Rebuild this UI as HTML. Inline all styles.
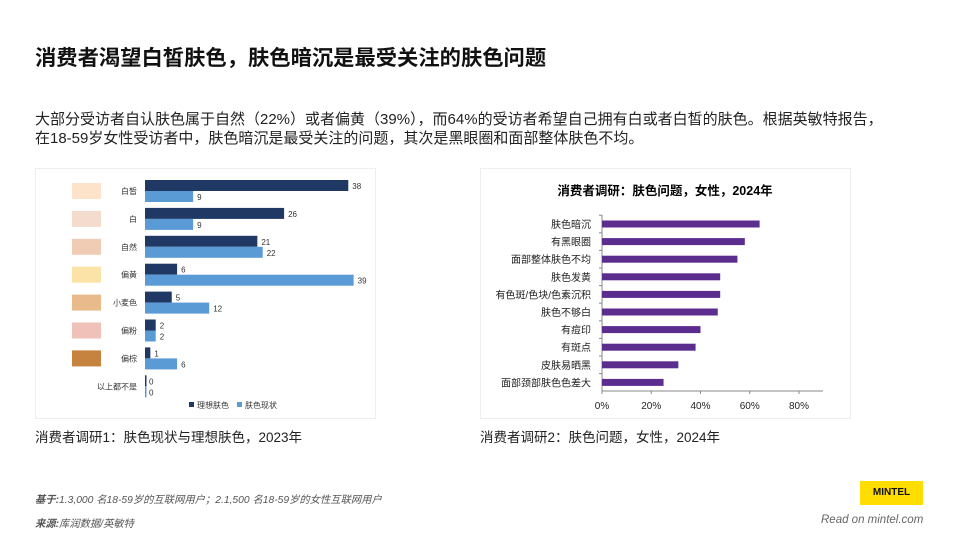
<!DOCTYPE html>
<html><head><meta charset="utf-8"><style>
body{margin:0;width:960px;height:540px;background:#fff;font-family:"Liberation Sans","Noto Sans CJK SC",sans-serif;position:relative;overflow:hidden;color:#222}
.abs{position:absolute;white-space:nowrap}
</style></head><body>
<div class="abs" style="left:35px;top:41px;font-size:21.3px;font-weight:bold;color:#111">消费者渴望白皙肤色，肤色暗沉是最受关注的肤色问题</div>
<div class="abs" style="left:35px;top:110px;font-size:15px;line-height:19px;color:#222">大部分受访者自认肤色属于自然（22%）或者偏黄（39%），而64%的受访者希望自己拥有白或者白皙的肤色。根据英敏特报告，<br>在18-59岁女性受访者中，肤色暗沉是最受关注的问题，其次是黑眼圈和面部整体肤色不均。</div>
<svg class="abs" style="left:0;top:0" width="960" height="540" id="c1"></svg>
<svg class="abs" style="left:0;top:0" width="960" height="540" id="c2"></svg>
<div class="abs" style="left:35px;top:426px;font-size:13.5px">消费者调研1：肤色现状与理想肤色，2023年</div>
<div class="abs" style="left:480px;top:426px;font-size:13.5px">消费者调研2：肤色问题，女性，2024年</div>
<div class="abs" style="left:35px;top:491px;font-size:10.3px;font-style:italic;color:#555"><b>基于:</b>1.3,000 名18-59岁的互联网用户；2.1,500 名18-59岁的女性互联网用户</div>
<div class="abs" style="left:35px;top:515px;font-size:10.3px;font-style:italic;color:#555"><b>来源:</b>库润数据/英敏特</div>
<div class="abs" style="left:860px;top:481px;width:63px;height:24px;background:#ffdd00;font-size:10px;font-weight:bold;text-align:center;line-height:24px;color:#111">MINTEL</div>
<div class="abs" style="left:821px;top:514px;font-size:11.5px;font-style:italic;color:#666">Read on mintel.com</div>
<script>
const cats1=['白皙','白','自然','偏黄','小麦色','偏粉','偏棕','以上都不是'];
const ideal=[38,26,21,6,5,2,1,0];
const current=[9,9,22,39,12,2,6,0];
const swatches=['#fde3c9','#f3dccd','#f0ccb4','#fbe3a8','#e9bb8c','#efc1b8','#c5833f',null];
const cats2=['肤色暗沉','有黑眼圈','面部整体肤色不均','肤色发黄','有色斑/色块/色素沉积','肤色不够白','有痘印','有斑点','皮肤易晒黑','面部颈部肤色色差大'];
const issueVals=[64,58,55,48,48,47,40,38,31,25];
const ticks2=[0,20,40,60,80];
const NS='http://www.w3.org/2000/svg';
function mk(svg,t,a,txt){const e=document.createElementNS(NS,t);for(const k in a)e.setAttribute(k,a[k]);if(txt!=null)e.textContent=txt;svg.appendChild(e);return e;}
const s1=document.getElementById('c1');
let e=mk(s1,'rect',{x:35.5,y:168.5,width:340,height:250,fill:'none',stroke:'#eee'});

const x1=v=>145+v*5.35, y1=i=>180+i*27.9;
cats1.forEach((c,i)=>{
 const y=y1(i);
 if(swatches[i]){let r=mk(s1,'rect',{x:72,y:y+3,width:29,height:16,fill:swatches[i]});
 }
 let l=mk(s1,'text',{x:137,y:y+14,'font-size':8,'text-anchor':'end',fill:'#333'},c);
 
 let b=mk(s1,'rect',{x:145,y:y,width:Math.max(1.5,x1(ideal[i])-145),height:11,fill:'#1f3864'});
 
 mk(s1,'text',{x:x1(ideal[i])+4,y:y+9,'font-size':8,fill:'#333'},ideal[i]);
 let b2=mk(s1,'rect',{x:145,y:y+11,width:Math.max(1.5,x1(current[i])-145),height:11,fill:'#5b9bd5'});
 
 mk(s1,'text',{x:x1(current[i])+4,y:y+20,'font-size':8,fill:'#333'},current[i]);
});
let lg=mk(s1,'rect',{x:189,y:402,width:5,height:5,fill:'#1f3864'});
mk(s1,'text',{x:197,y:408,'font-size':8,fill:'#333'},'理想肤色');
lg=mk(s1,'rect',{x:237,y:402,width:5,height:5,fill:'#5b9bd5'});
mk(s1,'text',{x:245,y:408,'font-size':8,fill:'#333'},'肤色现状');
const s2=document.getElementById('c2');
e=mk(s2,'rect',{x:480.5,y:168.5,width:370,height:250,fill:'none',stroke:'#eee'});

let t=mk(s2,'text',{x:665,y:195,'font-size':12.5,'font-weight':'bold','text-anchor':'middle',fill:'#000'},'消费者调研：肤色问题，女性，2024年');

const x2=v=>602+v*2.4625, y2=i=>224+i*17.6;
mk(s2,'line',{x1:602,y1:215,x2:602,y2:391,stroke:'#888'});
mk(s2,'line',{x1:602,y1:391,x2:823,y2:391,stroke:'#888'});
cats2.forEach((c,i)=>{
 const y=y2(i);
 mk(s2,'line',{x1:599,y1:y-8.8,x2:602,y2:y-8.8,stroke:'#888'});
 let l=mk(s2,'text',{x:591,y:y+4,'font-size':10,'text-anchor':'end',fill:'#222'},c);
 
 let b=mk(s2,'rect',{x:602,y:y-3.5,width:x2(issueVals[i])-602,height:7,fill:'#5b2d8e'});
 
});
ticks2.forEach(v=>{
 mk(s2,'line',{x1:x2(v),y1:391,x2:x2(v),y2:394,stroke:'#888'});
 let l=mk(s2,'text',{x:x2(v),y:409,'font-size':10,'text-anchor':'middle',fill:'#222'},v+'%');
 
});
</script>
</body></html>
